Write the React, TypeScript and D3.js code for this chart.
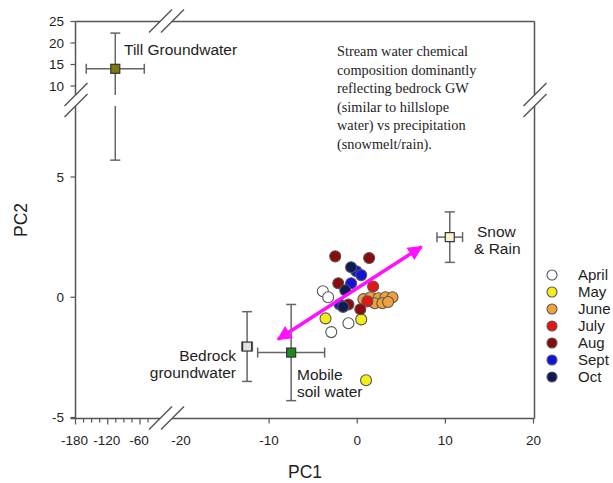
import React from "react";
import * as d3 from "d3";

// ---- data ----
const months = ["April", "May", "June", "July", "Aug", "Sept", "Oct"];
const monthColors = ["#ffffff", "#f5ec1c", "#f0a03c", "#e81414", "#8a0b0b", "#1212dc", "#0c1a58"];

const april = [[-3.9, 0.25], [-3.3, 0.0], [-1.0, -1.08], [-2.95, -1.45]];
const may = [[-3.6, -0.88], [0.45, -0.92], [1.0, -3.45]];
const june = [[0.7, -0.08], [1.5, 0.0], [2.4, -0.04], [3.2, 0.0], [4.0, 0.0], [2.0, -0.25], [2.85, -0.25], [3.5, -0.2]];
const july = [[1.8, 0.45], [1.15, -0.17]];
const aug = [[-2.5, 1.7], [1.35, 1.63], [-2.15, 0.58], [0.35, -0.5], [-1.0, -0.3]];
const sept = [[-0.1, 1.08], [0.45, 0.92], [-0.7, 0.58], [-2.0, -0.3]];
const oct = [[-0.7, 1.25], [-1.36, 0.29], [-1.6, -0.4]];
const monthSamples = [april, may, june, july, aug, sept, oct];

// end members: [pc1, pc2, pc1 err, pc2 err]
const tillGW = [-106, 14, 54, 8.3];
const snowRain = [10.5, 2.5, 1.45, 1.05];
const bedrockGW = [-12.5, -2.05, 0.6, 1.45];
const mobileSoil = [-7.5, -2.3, 3.8, 2.0];
const endColors = { till: "#7d7a12", snow: "#fbf1cf", bedrock: "#e2e2e2", mobile: "#1c8a1c" };

const mixArrow = [[-9.0, -1.75], [7.3, 2.1]];

const xTicksMain = [-10, 0, 10, 20];
const xTicksLeftLabels = [-180, -120, -60];
const xTicksLeftMinor = d3.range(-180, -44, 15);
const yTicksMain = [-5, 0, 5];
const yTicksUpper = [10, 15, 20, 25];

const noteLines = [
  "Stream water chemical",
  "composition dominantly",
  "reflecting bedrock GW",
  "(similar to hillslope",
  "water) vs precipitation",
  "(snowmelt/rain).",
];

// ---- layout ----
const L = 75.5, R = 534.5, T = 21.5, B = 418.5;
const xMain = d3.scaleLinear().domain([-20, 20]).range([181, 533.5]);
const xLeft = d3.scaleLinear().domain([-180, -60]).range([75.5, 140]);
const yMain = d3.scaleLinear().domain([-5, 5]).range([417.5, 177]);
const yUpper = d3.scaleLinear().domain([10, 25]).range([86, 21.5]);
const xGap = [160, 172];
const yGap = [95, 106];

const sans = "'Liberation Sans', Arial, sans-serif";
const serif = "'Liberation Serif', 'Times New Roman', serif";
const axisCol = "#555";
const barCol = "#666";
const textCol = "#1e1e1e";

function Slash({ x, y }: { x: number; y: number }) {
  return <line x1={x - 11} y1={y + 11} x2={x + 12} y2={y - 12} stroke={axisCol} strokeWidth={1.5} />;
}

function ErrCross({ cx, cy, x1, x2, y1, y2, fill, cap = 5, gap }: any) {
  const s = 4.5;
  return (
    <g stroke={barCol} strokeWidth={1.5} fill="none">
      <line x1={x1} x2={x2} y1={cy} y2={cy} />
      <line x1={x1} x2={x1} y1={cy - cap} y2={cy + cap} />
      <line x1={x2} x2={x2} y1={cy - cap} y2={cy + cap} />
      {gap ? (
        <>
          <line x1={cx} x2={cx} y1={y1} y2={gap[0]} />
          <line x1={cx} x2={cx} y1={gap[1]} y2={y2} />
        </>
      ) : (
        <line x1={cx} x2={cx} y1={y1} y2={y2} />
      )}
      <line x1={cx - cap} x2={cx + cap} y1={y1} y2={y1} />
      <line x1={cx - cap} x2={cx + cap} y1={y2} y2={y2} />
      <rect x={cx - s} y={cy - s} width={2 * s} height={2 * s} fill={fill} stroke="#333" strokeWidth={1.2} />
    </g>
  );
}

function mainCross(d: number[], fill: string) {
  const cx = xMain(d[0]), cy = yMain(d[1]);
  return (
    <ErrCross cx={cx} cy={cy} x1={xMain(d[0] - d[2])} x2={xMain(d[0] + d[2])}
      y1={yMain(d[1] + d[3])} y2={yMain(d[1] - d[3])} fill={fill} />
  );
}

export default function App() {
  const tcx = xLeft(tillGW[0]);
  const tcy = yUpper(tillGW[1]);
  const a0 = [xMain(mixArrow[0][0]), yMain(mixArrow[0][1])];
  const a1 = [xMain(mixArrow[1][0]), yMain(mixArrow[1][1])];
  return (
    <svg width={613} height={483} style={{ position: "absolute", left: 0, top: 0, background: "#fff" }}>
      <defs>
        <marker id="ah" viewBox="0 0 10 10" refX={9} refY={5} markerWidth={4.6} markerHeight={4.2} orient="auto-start-reverse" markerUnits="strokeWidth">
          <path d="M0,0 L10,5 L0,10 z" fill="#ff10ff" />
        </marker>
      </defs>

      {/* frame */}
      <g stroke={axisCol} strokeWidth={1.5} fill="none">
        <line x1={L} x2={L} y1={T} y2={yGap[0]} />
        <line x1={L} x2={L} y1={yGap[1]} y2={B} />
        <line x1={R} x2={R} y1={T} y2={yGap[0]} />
        <line x1={R} x2={R} y1={yGap[1]} y2={B} />
        <line x1={L} x2={xGap[0]} y1={T} y2={T} />
        <line x1={xGap[1]} x2={R} y1={T} y2={T} />
        <line x1={L - 5} x2={xGap[0]} y1={B} y2={B} />
        <line x1={xGap[1]} x2={R} y1={B} y2={B} />
      </g>
      <Slash x={L} y={yGap[0]} />
      <Slash x={L} y={yGap[1]} />
      <Slash x={R} y={yGap[0]} />
      <Slash x={R} y={yGap[1]} />
      <Slash x={xGap[0]} y={T} />
      <Slash x={xGap[1]} y={T} />
      <Slash x={xGap[0]} y={B} />
      <Slash x={xGap[1]} y={B} />

      {/* ticks */}
      <g stroke={axisCol} strokeWidth={1.2}>
        {yTicksMain.map((t) => <line key={"ym" + t} x1={L - 5} x2={L} y1={yMain(t)} y2={yMain(t)} />)}
        {yTicksUpper.map((t) => <line key={"yu" + t} x1={L - 5} x2={L} y1={yUpper(t)} y2={yUpper(t)} />)}
        {xTicksMain.map((t) => <line key={"xm" + t} x1={xMain(t)} x2={xMain(t)} y1={B} y2={B + 5} />)}
        {xTicksLeftMinor.map((t) => <line key={"xl" + t} x1={xLeft(t)} x2={xLeft(t)} y1={B} y2={B + (t % 60 === 0 ? 6 : 4)} />)}
      </g>
      <g fontFamily={sans} fontSize={13.5} fill={textCol}>
        {yTicksMain.map((t) => <text key={"yml" + t} x={64} y={yMain(t)} dy="0.36em" textAnchor="end">{t}</text>)}
        {yTicksUpper.map((t) => <text key={"yul" + t} x={64} y={yUpper(t)} dy="0.36em" textAnchor="end">{t}</text>)}
        {xTicksMain.map((t) => <text key={"xml" + t} x={xMain(t)} y={445} textAnchor="middle">{t}</text>)}
        <text x={xMain(-20)} y={445} textAnchor="middle">-20</text>
        {xTicksLeftLabels.map((t) => <text key={"xll" + t} x={xLeft(t) - 1} y={445} textAnchor="middle">{t}</text>)}
      </g>
      <text x={(L + R) / 2} y={478} textAnchor="middle" fontFamily={sans} fontSize={17.5} fill={textCol}>PC1</text>
      <text transform={`translate(27,${(T + B) / 2}) rotate(-90)`} textAnchor="middle" fontFamily={sans} fontSize={17.5} fill={textCol}>PC2</text>

      {/* end members */}
      <ErrCross cx={tcx} cy={tcy} x1={xLeft(tillGW[0] - tillGW[2])} x2={xLeft(tillGW[0] + tillGW[2])}
        y1={yUpper(tillGW[1] + tillGW[3])} y2={yMain(tillGW[1] - tillGW[3])} fill={endColors.till} gap={yGap} />
      {mainCross(snowRain, endColors.snow)}
      {mainCross(bedrockGW, endColors.bedrock)}
      {mainCross(mobileSoil, endColors.mobile)}

      {/* samples */}
      {monthSamples.map((arr, i) =>
        arr.map((d, j) => (
          <circle key={i + "-" + j} cx={xMain(d[0])} cy={yMain(d[1])} r={5.5} fill={monthColors[i]} stroke="#555" strokeWidth={1.1} />
        ))
      )}

      {/* mixing arrow */}
      <line x1={a0[0]} y1={a0[1]} x2={a1[0]} y2={a1[1]} stroke="#ff10ff" strokeWidth={3.5} markerStart="url(#ah)" markerEnd="url(#ah)" />

      {/* labels */}
      <g fontFamily={sans} fontSize={15.5} fill={textCol}>
        <text x={124} y={55}>Till Groundwater</text>
        <text x={477} y={237}>Snow</text>
        <text x={474} y={254}>&amp; Rain</text>
        <text x={236} y={361} textAnchor="end">Bedrock</text>
        <text x={236} y={378} textAnchor="end">groundwater</text>
        <text x={297} y={380}>Mobile</text>
        <text x={297} y={397}>soil water</text>
      </g>
      <g fontFamily={serif} fontSize={14.3} fill={textCol}>
        {noteLines.map((s, i) => <text key={i} x={337} y={56 + i * 18.6}>{s}</text>)}
      </g>

      {/* legend */}
      {months.map((m, i) => (
        <g key={m}>
          <circle cx={552} cy={275 + i * 17} r={5} fill={monthColors[i]} stroke="#555" strokeWidth={1.1} />
          <text x={578} y={275 + i * 17} dy="0.36em" fontFamily={sans} fontSize={15} fill={textCol}>{m}</text>
        </g>
      ))}
    </svg>
  );
}
